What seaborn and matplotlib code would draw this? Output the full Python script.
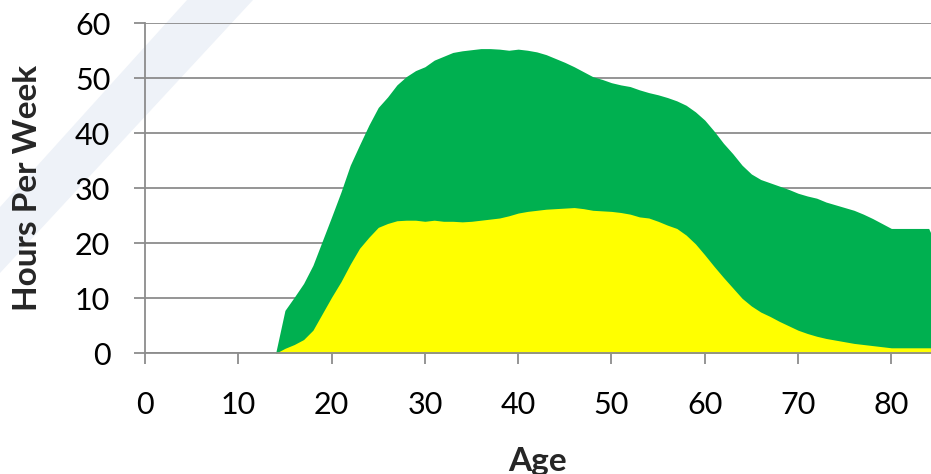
import matplotlib
matplotlib.use("Agg")
import matplotlib.pyplot as plt
import numpy as np
import pandas as pd
import seaborn as sns
from matplotlib.patches import Polygon

ages = list(range(14, 86))

# top of the green area (total hours per week)
total_hours = [0.0, 7.8, 10.2, 12.7, 16.0, 20.4, 24.8, 29.3, 34.2, 37.9,
               41.5, 44.7, 46.6, 48.8, 50.3, 51.4, 52.1, 53.3, 54.0, 54.7,
               55.0, 55.2, 55.4, 55.4, 55.3, 55.1, 55.3, 55.1, 54.8, 54.3,
               53.6, 52.9, 52.1, 51.2, 50.3, 49.8, 49.2, 48.8, 48.5, 47.9,
               47.4, 47.0, 46.5, 45.9, 45.1, 43.9, 42.4, 40.4, 38.2, 36.3,
               34.2, 32.6, 31.6, 31.0, 30.4, 29.8, 29.1, 28.6, 28.2, 27.5,
               27.0, 26.5, 26.0, 25.3, 24.5, 23.6, 22.7, 22.7, 22.7, 22.7,
               22.7, 19.0]

# yellow area
yellow_hours = [0.0, 0.9, 1.6, 2.5, 4.2, 7.2, 10.2, 13.0, 16.2, 19.1,
                21.1, 22.9, 23.6, 24.1, 24.2, 24.2, 24.0, 24.2, 24.0, 24.0,
                23.9, 24.0, 24.2, 24.4, 24.6, 25.0, 25.5, 25.8, 26.0, 26.2,
                26.3, 26.4, 26.5, 26.3, 26.0, 25.9, 25.8, 25.6, 25.3, 24.8,
                24.6, 24.0, 23.3, 22.7, 21.5, 19.9, 17.9, 15.8, 13.8, 11.9,
                10.0, 8.6, 7.5, 6.7, 5.8, 5.0, 4.2, 3.6, 3.1, 2.7,
                2.4, 2.1, 1.8, 1.6, 1.4, 1.2, 1.0, 1.0, 1.0, 1.0,
                1.0, 1.0]

x_ticks = [0, 10, 20, 30, 40, 50, 60, 70, 80]
y_ticks = [0, 10, 20, 30, 40, 50, 60]

df = pd.DataFrame({"Age": ages, "Total": total_hours, "Yellow": yellow_hours})

sns.set_theme(style="white")
plt.rcParams["font.family"] = ["Lato", "DejaVu Sans"]

grid_grey = "#8c8c8c"

fig = plt.figure(figsize=(9.31, 4.74), dpi=100)
ax = fig.add_axes([145 / 931, 1 - 353.3 / 474, 786 / 931, 330 / 474])
ax.patch.set_alpha(0)

# faint diagonal band in the slide background
band = Polygon([(187 / 931, 1.0), (253 / 931, 1.0), (0, 1 - 273 / 474), (0, 1 - 207 / 474)],
               closed=True, transform=fig.transFigure, facecolor="#eef2f8",
               edgecolor="none", zorder=-1)
fig.patches.append(band)

sns.lineplot(data=df, x="Age", y="Total", color="#00B050", linewidth=0, ax=ax)
ax.fill_between(df["Age"], 0, df["Total"], color="#00B050", linewidth=0, zorder=2)
ax.fill_between(df["Age"], 0, df["Yellow"], color="#FFFF00", linewidth=0, zorder=3)

ax.set_xlim(0, 84.25)
ax.set_ylim(0, 60)
ax.set_xticks(x_ticks)
ax.set_yticks(y_ticks)

ax.grid(axis="y", color=grid_grey, linewidth=1.3)
ax.grid(axis="x", visible=False)
ax.set_axisbelow(True)

for side in ["top", "right"]:
    ax.spines[side].set_visible(False)
for side in ["left", "bottom"]:
    ax.spines[side].set_color(grid_grey)
    ax.spines[side].set_linewidth(1.3)
    ax.spines[side].set_zorder(4)

ax.tick_params(axis="both", which="major", direction="out", length=8, width=1.3,
               color=grid_grey, labelsize=22, labelcolor="black")
ax.tick_params(axis="x", pad=19)
ax.tick_params(axis="y", pad=17)
ax.yaxis.set_ticks_position("left")
ax.xaxis.set_ticks_position("bottom")

ax.set_xlabel("Age", fontsize=24, fontweight="bold", labelpad=20)
ax.set_ylabel("Hours Per Week", fontsize=24, fontweight="bold", labelpad=24)

fig.savefig("out.png", dpi=100)
